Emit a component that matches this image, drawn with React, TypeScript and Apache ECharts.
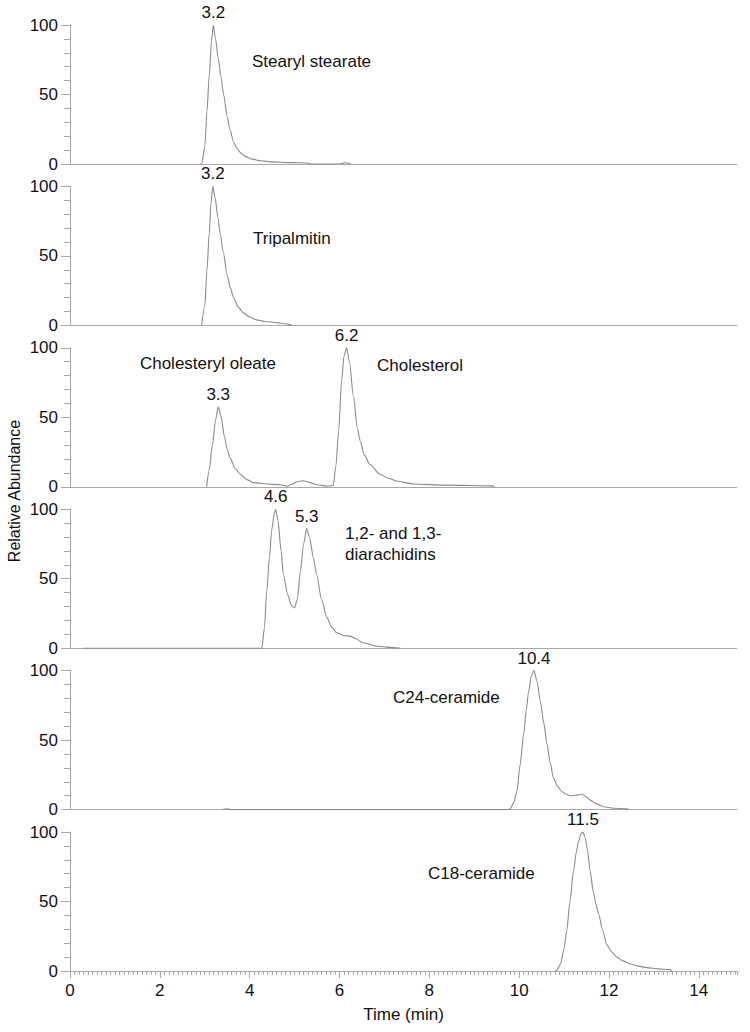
import React, { useEffect, useRef } from "react";
import * as echarts from "echarts";

// ---- data (time in min, relative abundance in %) ----
const stearylStearate: [number, number][] = [
  [2.9, 0], [2.93, 0], [3.0, 12], [3.05, 38], [3.1, 64], [3.15, 88], [3.19, 100], [3.24, 90],
  [3.3, 76], [3.36, 63], [3.42, 50], [3.5, 34], [3.56, 25], [3.64, 16], [3.72, 11], [3.8, 8],
  [3.9, 5.5], [4.05, 3.5], [4.25, 2.3], [4.5, 1.5], [4.9, 1], [5.3, 0.7], [5.36, 0],
  [6.0, 0], [6.12, 0.9], [6.25, 0],
];
const tripalmitin: [number, number][] = [
  [2.93, 0], [3.0, 14], [3.05, 40], [3.1, 66], [3.14, 88], [3.18, 100], [3.23, 92], [3.29, 78],
  [3.35, 65], [3.41, 53], [3.5, 36], [3.57, 27], [3.64, 20], [3.75, 13], [3.86, 9], [4.0, 6],
  [4.15, 4], [4.35, 2.8], [4.6, 2], [4.8, 1.2], [4.92, 0.5], [4.95, 0],
];
const cholesterylOleateCholesterol: [number, number][] = [
  [3.04, 0], [3.1, 12], [3.17, 30], [3.24, 48], [3.3, 57.5], [3.36, 51], [3.44, 36], [3.5, 27],
  [3.56, 21], [3.68, 13], [3.79, 9], [3.95, 5], [4.08, 3], [4.4, 2], [4.68, 1.5], [4.83, 0.5],
  [4.95, 1.8], [5.05, 3.6], [5.2, 4.4], [5.35, 3], [5.5, 1.5], [5.72, 0.5], [5.86, 1], [5.92, 15],
  [5.98, 40], [6.05, 77], [6.1, 94], [6.16, 100], [6.22, 90], [6.31, 65], [6.4, 42], [6.46, 33],
  [6.55, 23], [6.68, 16], [6.9, 9], [7.1, 6], [7.28, 4], [7.65, 2], [8.4, 1.2], [9.4, 0.7], [9.45, 0],
];
const diarachidins: [number, number][] = [
  [0.3, 0], [4.27, 0], [4.33, 15], [4.38, 41], [4.44, 65], [4.49, 85], [4.55, 97], [4.58, 100],
  [4.63, 92], [4.7, 70], [4.75, 53], [4.85, 38], [4.93, 31], [5.0, 29], [5.06, 35], [5.13, 55],
  [5.2, 75], [5.27, 86], [5.33, 80], [5.42, 65], [5.49, 53], [5.6, 35], [5.72, 22], [5.83, 15],
  [5.94, 11], [6.1, 9], [6.24, 8.7], [6.35, 7], [6.53, 3.9], [6.83, 1.4], [7.28, 0.2], [7.35, 0],
];
const c24Ceramide: [number, number][] = [
  [3.4, 0], [3.5, 0.6], [3.6, 0], [9.75, 0], [9.8, 0.5], [9.88, 5], [9.95, 13], [10.02, 32],
  [10.1, 54], [10.16, 72], [10.21, 85], [10.27, 96], [10.33, 100], [10.4, 92], [10.47, 78],
  [10.55, 62], [10.62, 47], [10.69, 34], [10.76, 23], [10.85, 17], [10.95, 13], [11.05, 11],
  [11.14, 10], [11.27, 10.3], [11.4, 11], [11.5, 9], [11.58, 7], [11.7, 4.5], [11.88, 2],
  [12.1, 1], [12.4, 0.5], [12.45, 0],
];
const c18Ceramide: [number, number][] = [
  [10.8, 0], [10.84, 0.5], [10.92, 5], [11.0, 16], [11.06, 29], [11.13, 50], [11.21, 72],
  [11.27, 85], [11.32, 93], [11.38, 99], [11.42, 100], [11.47, 96], [11.52, 87], [11.58, 72],
  [11.65, 57], [11.71, 48], [11.77, 41], [11.86, 29], [11.95, 19], [12.05, 14], [12.18, 10],
  [12.3, 7.5], [12.47, 5], [12.65, 3.5], [12.84, 2.4], [13.1, 1.5], [13.36, 1], [13.4, 0],
];

// peak labels: [time, abundance, text]
const peaks1: [number, number, string][] = [[3.19, 100, "3.2"]];
const peaks2: [number, number, string][] = [[3.18, 100, "3.2"]];
const peaks3: [number, number, string][] = [[3.3, 57.5, "3.3"], [6.16, 100, "6.2"]];
const peaks4: [number, number, string][] = [[4.58, 100, "4.6"], [5.27, 86, "5.3"]];
const peaks5: [number, number, string][] = [[10.33, 100, "10.4"]];
const peaks6: [number, number, string][] = [[11.42, 100, "11.5"]];

const yTickValues = [0, 50, 100];
const xMin = 0;
const xMax = 14.85;
const xMajor = 2;
const xMinor = 0.1;
const xAxisTitle = "Time (min)";
const yAxisTitle = "Relative Abundance";

const seriesData = [stearylStearate, tripalmitin, cholesterylOleateCholesterol, diarachidins, c24Ceramide, c18Ceramide];
const peakData = [peaks1, peaks2, peaks3, peaks4, peaks5, peaks6];

const FONT = "'Liberation Sans', Arial, sans-serif";
const TEXT = "#111111";
const AXIS = "#a8a8a8";
const CURVE = "#8a8a8a";

export default function App() {
  const ref = useRef<HTMLDivElement>(null);
  useEffect(() => {
    if (!ref.current) return;
    const chart = echarts.init(ref.current, undefined, { renderer: "svg" });
    const n = seriesData.length;
    const grids: any[] = [];
    const xAxes: any[] = [];
    const yAxes: any[] = [];
    const series: any[] = [];
    for (let i = 0; i < n; i++) {
      grids.push({ left: 70, right: 13, top: 25 + i * 161.4, height: 139 });
      const last = i === n - 1;
      xAxes.push({
        type: "value",
        gridIndex: i,
        min: xMin,
        max: xMax,
        interval: xMajor,
        axisLine: { show: true, lineStyle: { color: AXIS, width: 1 } },
        axisTick: { show: last, length: 7, lineStyle: { color: AXIS } },
        axisLabel: {
          show: last,
          fontSize: 17,
          color: TEXT,
          fontFamily: FONT,
          margin: 11,
          showMaxLabel: false,
        },
        splitLine: { show: false },
        name: last ? xAxisTitle : "",
        nameLocation: "middle",
        nameGap: 35,
        nameTextStyle: { fontSize: 17, color: TEXT, fontFamily: FONT },
      });
      yAxes.push({
        type: "value",
        gridIndex: i,
        min: 0,
        max: 100,
        interval: 50,
        axisLine: { show: true, lineStyle: { color: AXIS, width: 1 } },
        axisTick: { show: true, length: 9, lineStyle: { color: AXIS } },
        minorTick: { show: true, splitNumber: 5, length: 6, lineStyle: { color: AXIS } },
        axisLabel: {
          fontSize: 17,
          color: TEXT,
          fontFamily: FONT,
          margin: 12,
          formatter: (v: number) => (yTickValues.includes(v) ? String(v) : ""),
        },
        splitLine: { show: false },
      });
      series.push({
        type: "line",
        xAxisIndex: i,
        yAxisIndex: i,
        data: seriesData[i],
        showSymbol: false,
        smooth: 0.25,
        smoothMonotone: "x",
        lineStyle: { color: CURVE, width: 1.1 },
        z: 3,
        markPoint: {
          symbol: "circle",
          symbolSize: 0,
          itemStyle: { color: "transparent" },
          label: {
            show: true,
            position: "top",
            distance: 4,
            fontSize: 17,
            color: TEXT,
            fontFamily: FONT,
            formatter: (p: any) => p.name,
          },
          data: peakData[i].map((p) => ({ coord: [p[0], p[1]], name: p[2], value: p[1] })),
        },
      });
    }
    // fine minor ticks on the bottom axis (every 0.1 min)
    xAxes.push({
      type: "value",
      gridIndex: n - 1,
      min: xMin,
      max: xMax,
      interval: xMinor,
      position: "bottom",
      axisLine: { show: false },
      axisTick: { show: true, length: 4, lineStyle: { color: AXIS } },
      axisLabel: { show: false },
      splitLine: { show: false },
    });
    series.push({
      type: "line",
      xAxisIndex: n,
      yAxisIndex: n - 1,
      data: [],
      showSymbol: false,
    });

    const txt = (text: string, x: number, y: number, extra: any = {}) => ({
      type: "text",
      x,
      y,
      style: {
        text,
        fontSize: 17,
        fontFamily: FONT,
        fill: TEXT,
        textAlign: "left",
        textVerticalAlign: "middle",
        ...extra,
      },
    });

    chart.setOption({
      animation: false,
      backgroundColor: "#ffffff",
      grid: grids,
      xAxis: xAxes,
      yAxis: yAxes,
      series,
      graphic: [
        txt("Stearyl stearate", 252, 61),
        txt("Tripalmitin", 253, 238),
        txt("Cholesteryl oleate", 276, 363, { textAlign: "right" }),
        txt("Cholesterol", 377, 365),
        txt("1,2- and 1,3-", 345, 533),
        txt("diarachidins", 345, 554),
        txt("C24-ceramide", 393, 697),
        txt("C18-ceramide", 428, 873),
        {
          type: "text",
          x: 14,
          y: 491,
          rotation: Math.PI / 2,
          style: {
            text: yAxisTitle,
            fontSize: 16,
            fontFamily: FONT,
            fill: TEXT,
            textAlign: "center",
            textVerticalAlign: "middle",
          },
        },
      ],
    });
    return () => chart.dispose();
  }, []);
  return (
    <div
      ref={ref}
      style={{ position: "absolute", left: 0, top: 0, width: 750, height: 1032 }}
    />
  );
}
